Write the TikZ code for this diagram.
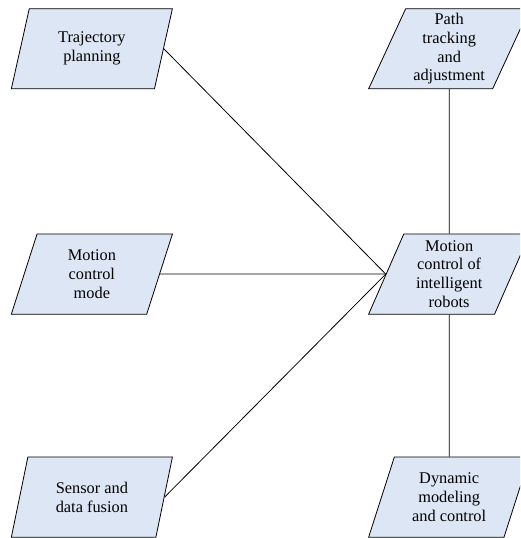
\documentclass[tikz,border=0pt]{standalone}
\usepackage{fontspec}
\setmainfont{Liberation Serif}
\usetikzlibrary{positioning,shapes.geometric}
\definecolor{boxblue}{RGB}{221,230,244}

\begin{document}
\begin{tikzpicture}[
    block/.style={trapezium, trapezium left angle=63.43, trapezium right angle=116.57,
      trapezium stretches body=true, draw, line width=0.6pt, fill=boxblue,
      minimum width=4.26cm, minimum height=2.12cm, inner sep=1pt, align=center,
      font=\rmfamily\fontsize{12.3}{14.2}\selectfont},
    link/.style={line width=0.6pt}]
    \useasboundingbox (0,0) rectangle (13.76,14.23);
    \clip (0,0) rectangle (13.76,14.23);

    % Left column
    \node[block] (traj) at (2.43,12.94) {Trajectory\\planning};
    \node[block] (mode) at (2.43,6.98) {Motion\\control\\mode};
    \node[block] (sensor) at (2.43,1.08) {Sensor and\\data fusion};

    % Right column
    \node[block] (path) at (11.88,12.94) {Path\\tracking\\and\\adjustment};
    \node[block] (robot) at (11.88,6.98) {Motion\\control of\\intelligent\\robots};
    \node[block] (dyn) at (11.88,1.08) {Dynamic\\modeling\\and control};

    % Connect components
    \draw[link] (traj.east) -- (robot.west);
    \draw[link] (mode.east) -- (robot.west);
    \draw[link] (sensor.east) -- (robot.west);
    \draw[link] (path.south) -- (robot.north);
    \draw[link] (robot.south) -- (dyn.north);
\end{tikzpicture}
\end{document}
